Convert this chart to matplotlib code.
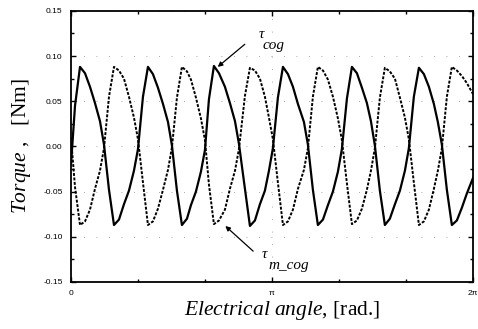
import matplotlib
matplotlib.use("Agg")
import matplotlib.pyplot as plt
import numpy as np

plt.rcParams['mathtext.fontset'] = 'custom'
plt.rcParams['mathtext.rm'] = 'Liberation Serif'
plt.rcParams['mathtext.it'] = 'Liberation Serif:italic'

# electrical angle [rad]
angle = [0.000, 0.063,
         0.141, 0.219, 0.297, 0.375, 0.453, 0.516, 0.594, 0.672,
         0.750, 0.828, 0.906, 0.984, 1.047, 1.125, 1.203,
         1.281, 1.359, 1.438, 1.516, 1.578, 1.656, 1.734,
         1.813, 1.875, 1.953, 2.031, 2.094, 2.156, 2.234,
         2.313, 2.406, 2.484, 2.563, 2.625, 2.719, 2.797,
         2.875, 2.953, 3.031, 3.094, 3.156, 3.234, 3.313,
         3.391, 3.469, 3.547, 3.641, 3.703, 3.781, 3.859,
         3.938, 4.016, 4.094, 4.172, 4.234, 4.313, 4.391,
         4.469, 4.547, 4.625, 4.688, 4.750, 4.828, 4.906,
         4.984, 5.063, 5.141, 5.219, 5.281, 5.359, 5.438,
         5.516, 5.594, 5.672, 5.734, 5.797, 5.875, 5.953,
         6.031, 6.109, 6.188, 6.283]

# cogging torque [Nm]
tau_cog = [-0.020, 0.045,
           0.088, 0.081, 0.066, 0.048, 0.028, 0.002, -0.048, -0.087,
           -0.081, -0.064, -0.049, -0.027, -0.003, 0.055, 0.088,
           0.080, 0.065, 0.047, 0.027, 0.001, -0.049, -0.087,
           -0.080, -0.065, -0.050, -0.028, -0.004, 0.052, 0.089,
           0.081, 0.066, 0.048, 0.028, 0.003, -0.047, -0.088,
           -0.082, -0.064, -0.049, -0.027, -0.002, 0.054, 0.088,
           0.080, 0.066, 0.047, 0.027, 0.002, -0.048, -0.087,
           -0.081, -0.065, -0.050, -0.028, -0.003, 0.053, 0.088,
           0.081, 0.065, 0.048, 0.028, 0.001, -0.049, -0.087,
           -0.080, -0.064, -0.049, -0.027, -0.002, 0.055, 0.087,
           0.080, 0.066, 0.047, 0.027, 0.002, -0.048, -0.087,
           -0.082, -0.068, -0.052, -0.035]

# modified cogging torque [Nm]
tau_m_cog = [0.010, -0.045,
             -0.087, -0.083, -0.070, -0.047, -0.027, -0.002, 0.055, 0.088,
             0.084, 0.075, 0.055, 0.032, 0.008, -0.040, -0.087,
             -0.083, -0.069, -0.048, -0.026, -0.001, 0.054, 0.088,
             0.083, 0.074, 0.054, 0.031, 0.007, -0.042, -0.086,
             -0.082, -0.070, -0.047, -0.027, -0.003, 0.056, 0.087,
             0.084, 0.075, 0.055, 0.032, 0.008, -0.040, -0.087,
             -0.083, -0.070, -0.047, -0.026, -0.002, 0.055, 0.088,
             0.084, 0.074, 0.055, 0.031, 0.007, -0.041, -0.086,
             -0.082, -0.069, -0.048, -0.027, -0.002, 0.054, 0.087,
             0.083, 0.075, 0.054, 0.032, 0.008, -0.040, -0.087,
             -0.083, -0.070, -0.047, -0.027, -0.002, 0.055, 0.088,
             0.084, 0.078, 0.070, 0.058]

yticks = [-0.15, -0.10, -0.05, 0.00, 0.05, 0.10, 0.15]
xticks = [0, np.pi, 2 * np.pi]
xticklabels = ['0', 'π', '2π']

fig = plt.figure(figsize=(4.78, 3.29), dpi=100)
ax = fig.add_axes([0.1485, 0.143, 0.841, 0.824])

ax.plot(angle, tau_cog, color='black', lw=1.6)
ax.plot(angle, tau_m_cog, color='black', lw=1.4, linestyle=(0, (1.5, 0.8)))

ax.set_xlim(0, 2 * np.pi)
ax.set_ylim(-0.15, 0.15)

ax.set_yticks(yticks)
ax.set_yticklabels(['%.2f' % v for v in yticks])
ax.set_yticks(np.arange(-0.15, 0.151, 0.025), minor=True)
ax.set_xticks(xticks)
ax.set_xticklabels(xticklabels)
ax.set_xticks(np.arange(0, 2 * np.pi + 0.01, np.pi / 3), minor=True)
ax.tick_params(which='both', direction='in', top=True, right=True,
               length=3.5, width=1, labelsize=6, pad=6)
ax.tick_params(which='minor', length=2.5)
for lab in ax.get_xticklabels() + ax.get_yticklabels():
    lab.set_family('Liberation Sans')
for s in ax.spines.values():
    s.set_linewidth(1.3)

ax.grid(True, which='major', color='0.55', lw=0.6, linestyle=(0, (1, 14)))

ax.set_xlabel(r'$\it{Electrical\ angle}$, [rad.]', family='Liberation Serif',
              fontsize=15.5)
ax.xaxis.set_label_coords(0.525, -0.062)
ax.set_ylabel(r'$\it{Torque}$ ,   [Nm]', family='Liberation Serif',
              fontsize=15.5)
ax.yaxis.set_label_coords(-0.094, 0.5)

# annotations
ax.annotate('', xy=(2.26, 0.086), xytext=(2.75, 0.115),
            arrowprops=dict(arrowstyle='-|>', color='black', lw=0.9,
                            mutation_scale=7))
ax.text(2.93, 0.125, r'$\tau$', fontsize=11, ha='left', va='center')
ax.text(3.0, 0.112, 'cog', family='Liberation Serif', style='italic',
        fontsize=11, ha='left', va='center')

ax.annotate('', xy=(2.38, -0.086), xytext=(2.88, -0.118),
            arrowprops=dict(arrowstyle='-|>', color='black', lw=0.9,
                            mutation_scale=7))
ax.text(2.97, -0.119, r'$\tau$', fontsize=11, ha='left', va='center')
ax.text(3.08, -0.132, 'm_cog', family='Liberation Serif', style='italic',
        fontsize=11, ha='left', va='center')

fig.savefig('out.png', dpi=100)
